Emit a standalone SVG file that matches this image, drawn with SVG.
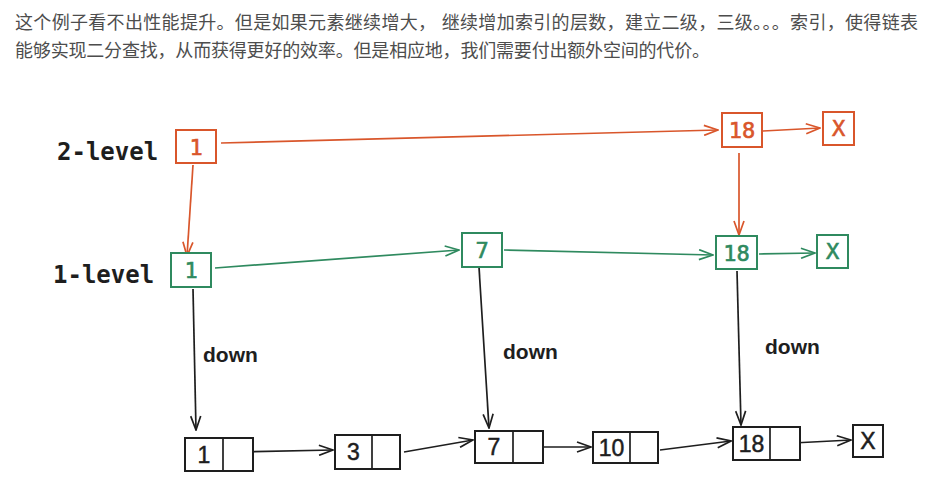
<svg xmlns="http://www.w3.org/2000/svg" width="930" height="481" viewBox="0 0 930 481">
<style>
.para{font-family:"Liberation Sans","Noto Sans CJK SC",sans-serif;font-size:18px;fill:#4d4d4d}
.lvl{font-family:"DejaVu Sans Mono",monospace;font-weight:bold;font-size:24px;fill:#1e1e1e}
.down{font-family:"Liberation Sans",sans-serif;font-weight:bold;font-size:21px;fill:#1e1e1e}
.bo{fill:#fff;stroke:#d9562b;stroke-width:2}
.bg{fill:#fff;stroke:#2f8a5f;stroke-width:2}
.bk{fill:#fff;stroke:#1e1e1e;stroke-width:2}
.to{font-family:"DejaVu Sans Mono",monospace;font-size:22px;font-weight:500;fill:#d9562b;text-anchor:middle;stroke:#d9562b;stroke-width:0.6}
.tg{font-family:"DejaVu Sans Mono",monospace;font-size:22px;font-weight:500;fill:#2f8a5f;text-anchor:middle;stroke:#2f8a5f;stroke-width:0.6}
.tk{font-family:"Liberation Sans",sans-serif;font-size:23px;fill:#1e1e1e;text-anchor:middle;stroke:#1e1e1e;stroke-width:0.5}
.co{fill:none;stroke:#d9562b;stroke-width:1.7}
.cg{fill:none;stroke:#2f8a5f;stroke-width:1.7}
.ck{fill:none;stroke:#1e1e1e;stroke-width:1.7}
</style>
<defs>
<marker id="ao" viewBox="0 0 16 12" refX="15" refY="6" markerWidth="16" markerHeight="12" markerUnits="userSpaceOnUse" orient="auto"><path d="M1,1 L15,6 L1,11" fill="none" stroke="#d9562b" stroke-width="1.7"/></marker>
<marker id="ag" viewBox="0 0 16 12" refX="15" refY="6" markerWidth="16" markerHeight="12" markerUnits="userSpaceOnUse" orient="auto"><path d="M1,1 L15,6 L1,11" fill="none" stroke="#2f8a5f" stroke-width="1.7"/></marker>
<marker id="ak" viewBox="0 0 16 12" refX="15" refY="6" markerWidth="16" markerHeight="12" markerUnits="userSpaceOnUse" orient="auto"><path d="M1,1 L15,6 L1,11" fill="none" stroke="#1e1e1e" stroke-width="1.7"/></marker>
</defs>
<rect width="930" height="481" fill="#fff"/>
<text class="para" x="15" y="29" textLength="903" lengthAdjust="spacing">这个例子看不出性能提升。但是如果元素继续增大， 继续增加索引的层数，建立二级，三级。。。索引，使得链表</text>
<text class="para" x="15" y="57" textLength="695" lengthAdjust="spacing">能够实现二分查找，从而获得更好的效率。但是相应地，我们需要付出额外空间的代价。</text>
<text class="lvl" x="57" y="160">2-level</text>
<text class="lvl" x="53" y="283">1-level</text>
<text class="down" x="203" y="362">down</text>
<text class="down" x="503" y="359">down</text>
<text class="down" x="765" y="354">down</text>
<g id="connectors">
<path class="co" d="M221,143 L718,130" marker-end="url(#ao)"/>
<path class="co" d="M763,131 L820,128" marker-end="url(#ao)"/>
<path class="co" d="M193,165 L187,256" marker-end="url(#ao)"/>
<path class="co" d="M739,153 L739,235" marker-end="url(#ao)"/>
<path class="cg" d="M215,268 L459,250" marker-end="url(#ag)"/>
<path class="cg" d="M504,250 L713,255" marker-end="url(#ag)"/>
<path class="cg" d="M759,254 L815,253" marker-end="url(#ag)"/>
<path class="ck" d="M193,289 L196,430" marker-end="url(#ak)"/>
<path class="ck" d="M479,267 L489,428" marker-end="url(#ak)"/>
<path class="ck" d="M737,271 L741,425" marker-end="url(#ak)"/>
<path class="ck" d="M238,452 L333,450" marker-end="url(#ak)"/>
<path class="ck" d="M404,452 L473,440" marker-end="url(#ak)"/>
<path class="ck" d="M540,447 L591,447" marker-end="url(#ak)"/>
<path class="ck" d="M660,450 L731,441" marker-end="url(#ak)"/>
<path class="ck" d="M793,443 L851,440" marker-end="url(#ak)"/>
</g>
<g id="o1"><rect class="bo" x="176" y="130" width="40" height="33"/><text class="to" x="196" y="155">1</text></g>
<g id="o18"><rect class="bo" x="722" y="113" width="40" height="34"/><text class="to" x="742" y="138">18</text></g>
<g id="oX"><rect class="bo" x="823" y="112" width="31" height="33"/><text class="to" x="838.5" y="136">X</text></g>
<g id="g1"><rect class="bg" x="171" y="253" width="40" height="34"/><text class="tg" x="191" y="278">1</text></g>
<g id="g7"><rect class="bg" x="462" y="233" width="40" height="34"/><text class="tg" x="482" y="258">7</text></g>
<g id="g18"><rect class="bg" x="716" y="236" width="41" height="33"/><text class="tg" x="736.5" y="261">18</text></g>
<g id="gX"><rect class="bg" x="817" y="235" width="31" height="33"/><text class="tg" x="832.5" y="259">X</text></g>
<g id="b1"><rect class="bk" x="185" y="438" width="68" height="33"/><path class="ck" d="M223,438 V471"/><text class="tk" x="204" y="463">1</text></g>
<g id="b3"><rect class="bk" x="335" y="435" width="65" height="34"/><path class="ck" d="M372,435 V469"/><text class="tk" x="353.5" y="460">3</text></g>
<g id="b7"><rect class="bk" x="475" y="431" width="68" height="32"/><path class="ck" d="M513,431 V463"/><text class="tk" x="494" y="455">7</text></g>
<g id="b10"><rect class="bk" x="593" y="432" width="65" height="31"/><path class="ck" d="M630,432 V463"/><text class="tk" x="611.5" y="456">10</text></g>
<g id="b18"><rect class="bk" x="733" y="427" width="67" height="33"/><path class="ck" d="M770,427 V460"/><text class="tk" x="751.5" y="452">18</text></g>
<g id="bX"><rect class="bk" x="853" y="425" width="30" height="32"/><text class="tk" x="868" y="449">X</text></g>
</svg>
